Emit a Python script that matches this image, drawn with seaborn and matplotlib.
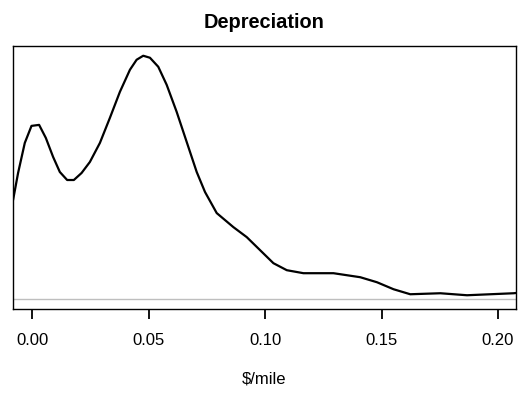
import matplotlib
matplotlib.use("Agg")
import matplotlib.pyplot as plt
import seaborn as sns
import pandas as pd

# Density curve ($/mile vs density)
cost = [-0.00817, -0.00602, -0.00314, -0.00026, 0.00301, 0.00589, 0.00902, 0.01190,
        0.01504, 0.01792, 0.02123, 0.02480, 0.02910, 0.03339, 0.03769, 0.04199,
        0.04486, 0.04770, 0.05058, 0.05415, 0.05776, 0.06205, 0.06635, 0.07065,
        0.07422, 0.07924, 0.08638, 0.09213, 0.09785, 0.10357, 0.10932, 0.11646,
        0.12291, 0.12935, 0.14083, 0.14800, 0.15514, 0.16231, 0.17521, 0.18668,
        0.19669, 0.20670, 0.20870]
density = [9.9, 12.6, 15.6, 17.3, 17.4, 16.1, 14.2, 12.7,
           11.9, 11.9, 12.6, 13.7, 15.6, 18.1, 20.7, 22.9,
           23.9, 24.3, 24.1, 23.2, 21.4, 18.7, 15.7, 12.7,
           10.7, 8.6, 7.2, 6.2, 4.9, 3.6, 2.9, 2.6,
           2.6, 2.6, 2.2, 1.7, 1.0, 0.5, 0.6, 0.4,
           0.5, 0.6, 0.65]
xticks = [0.00, 0.05, 0.10, 0.15, 0.20]
xticklabels = ["0.00", "0.05", "0.10", "0.15", "0.20"]

sns.set_style("ticks", rc={"text.color": "black", "axes.labelcolor": "black",
                           "xtick.color": "black", "axes.edgecolor": "black"})
plt.rcParams['font.family'] = ['Liberation Sans', 'DejaVu Sans']

df = pd.DataFrame({"cost": cost, "density": density})

fig = plt.figure(figsize=(5.18, 3.96), dpi=100)
ax = fig.add_axes([13/518, (396-309)/396, 503/518, 263/396])

ax.axhline(0, color="#bebebe", lw=1.0, zorder=1)
sns.lineplot(data=df, x="cost", y="density", ax=ax, color="black", lw=1.6,
             sort=False, zorder=2)

peak = max(density)
ax.set_ylim(-0.04 * peak, 1.04 * peak)
ax.set_xlim(-0.0082, 0.2077)
ax.set_xticks(xticks)
ax.set_xticklabels(xticklabels)
ax.set_yticks([])
ax.tick_params(axis="x", which="major", bottom=True, direction="out", length=7,
               width=1.3, color="black", labelcolor="black", labelsize=12, pad=10)
for s in ax.spines.values():
    s.set_visible(True)
    s.set_color("black")
    s.set_linewidth(1.0)
ax.set_ylabel("")
ax.set_xlabel(r"\$/mile", fontsize=12, labelpad=17, color="black")
ax.set_title("Depreciation", fontsize=14.4, fontweight="bold", pad=13, color="black")

fig.savefig("out.png", dpi=100)
